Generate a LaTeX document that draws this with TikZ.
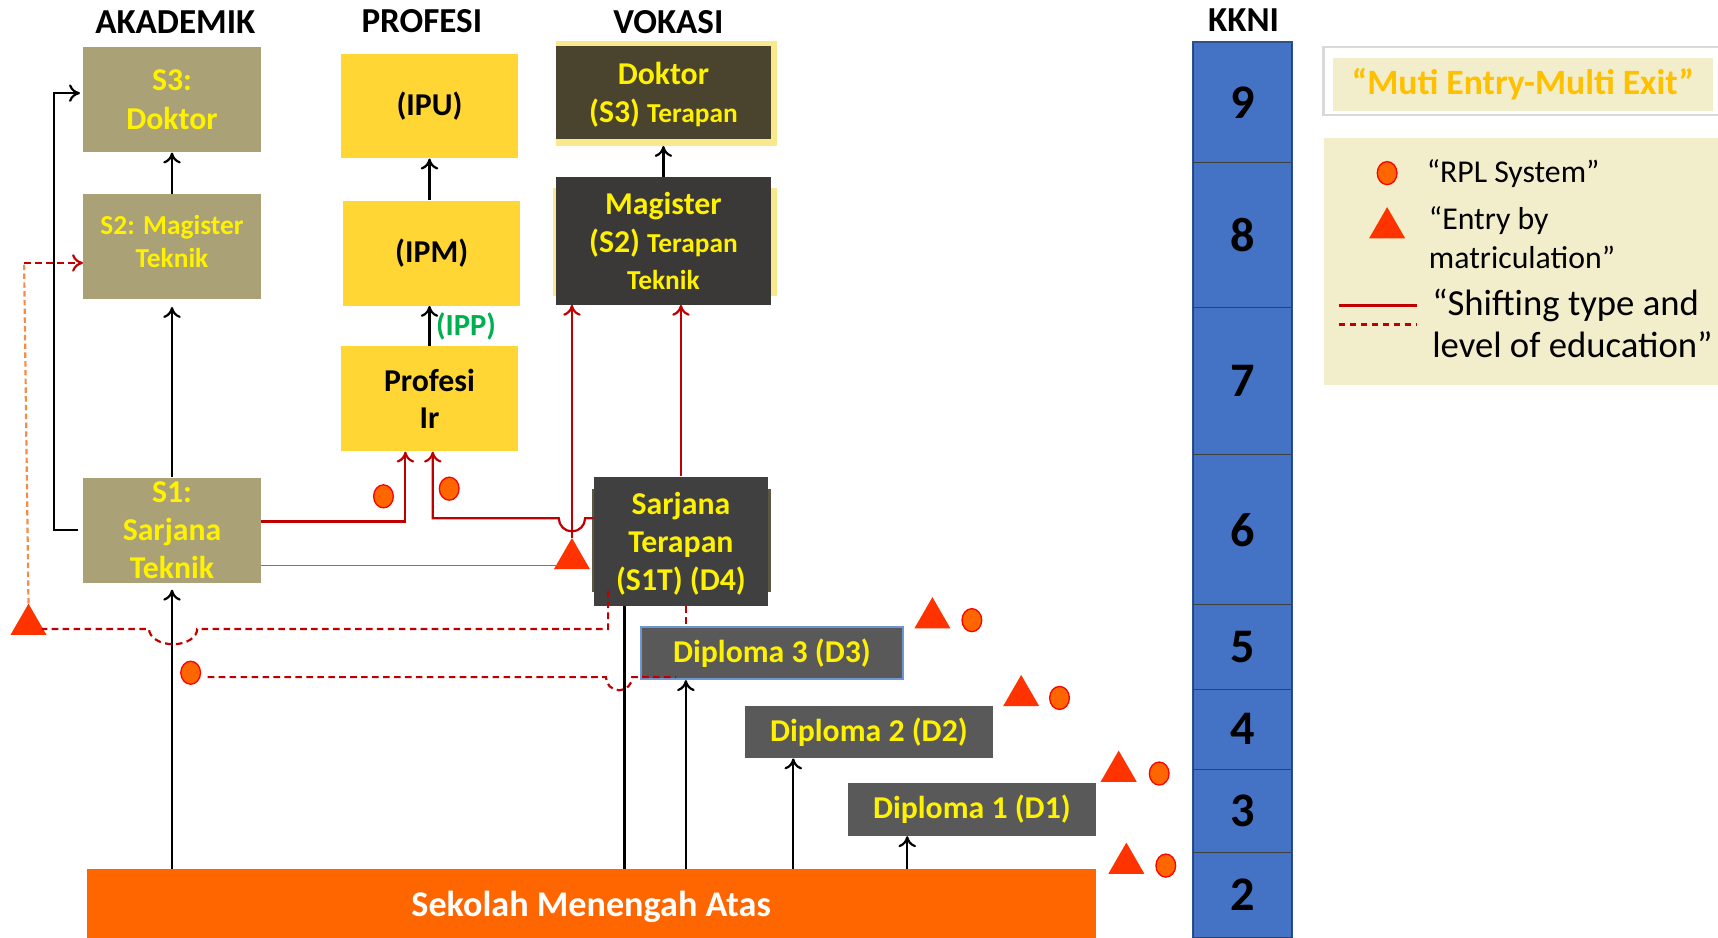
\documentclass[tikz,border=0pt]{standalone}
\usepackage{fontspec}
\setmainfont{Carlito}
\usetikzlibrary{arrows.meta,shapes.geometric}

\definecolor{akadc}{RGB}{170,161,118}
\definecolor{profc}{RGB}{255,214,51}
\definecolor{dokc}{RGB}{74,67,45}
\definecolor{magc}{RGB}{59,56,56}
\definecolor{stc}{RGB}{64,64,64}
\definecolor{stside}{RGB}{92,87,66}
\definecolor{dipc}{RGB}{89,89,89}
\definecolor{d3b}{RGB}{110,150,210}
\definecolor{smac}{RGB}{255,102,0}
\definecolor{kknic}{RGB}{68,114,196}
\definecolor{kknid}{RGB}{47,82,143}
\definecolor{shfc}{RGB}{192,0,0}
\definecolor{shfl}{RGB}{210,80,80}
\definecolor{odash}{RGB}{244,140,70}
\definecolor{trc}{RGB}{255,51,0}
\definecolor{rplc}{RGB}{255,102,0}
\definecolor{legc}{RGB}{242,238,203}
\definecolor{mutic}{RGB}{255,192,0}
\definecolor{ippc}{RGB}{0,176,80}
\definecolor{hiy}{RGB}{250,232,140}

\begin{document}
\begin{tikzpicture}[x=1pt,y=-1pt,>={To[length=10pt,width=16pt]}]
\tikzstyle{every node}+=[inner sep=0pt]
\tikzstyle{ttl}=[font=\fontsize{32}{36}\selectfont\bfseries]
\tikzstyle{box}=[rectangle,align=center,font=\fontsize{29}{36}\selectfont\bfseries]
\tikzstyle{akad}=[box,fill=akadc,text=yellow,minimum width=162pt,minimum height=96pt]
\tikzstyle{prof}=[box,fill=profc,text=black,minimum width=162pt,minimum height=96pt]
\tikzstyle{voc}=[box,text=yellow,minimum width=197pt]
\tikzstyle{dip}=[box,fill=dipc,text=yellow,minimum height=48pt]
\tikzstyle{lvl}=[fill=kknic,draw=black!75,line width=1pt,minimum width=90pt,font=\fontsize{44}{44}\selectfont\bfseries]
\tikzstyle{leg}=[font=\fontsize{29}{35}\selectfont]
\tikzstyle{rpl}=[ellipse,fill=rplc,draw=red,line width=1.2pt,minimum width=18pt,minimum height=21pt]
\tikzstyle{mat}=[regular polygon,regular polygon sides=3,fill=trc,minimum size=38pt]
\tikzstyle{blk}=[draw=black,line width=2pt]
\tikzstyle{shf}=[draw=shfc,line width=2pt]
\tikzstyle{shfd}=[draw=shfc,line width=2pt,dash pattern=on 6pt off 4pt]
\tikzstyle{odsh}=[draw=odash,line width=2pt,dash pattern=on 5pt off 3pt]
\useasboundingbox (0,0) rectangle (1568,856);

% column titles
\draw (160,20) node[ttl] (hak) {AKADEMIK};
\draw (385,19) node[ttl] (hpr) {PROFESI};
\draw (610,20) node[ttl] (hvo) {VOKASI};
\draw (1135,18) node[ttl] (hkk) {KKNI};

% akademik
\draw (157,91) node[akad] (s3) {S3:\\Doktor};
\draw (157,225) node[akad,text depth=10pt,font=\fontsize{25}{30}\selectfont\bfseries] (s2) {S2: Magister\\Teknik};
\draw (157,484) node[akad,font=\fontsize{29}{35}\selectfont\bfseries] (s1) {S1:\\Sarjana\\Teknik};

% profesi
\draw (392,97) node[prof,minimum height=95pt] (ipu) {(IPU)};
\draw (394,231) node[prof] (ipm) {(IPM)};
\draw (392,364) node[prof,font=\fontsize{29}{34}\selectfont\bfseries] (ir) {Profesi\\Ir};

% vokasi
\fill[hiy] (507,37) rectangle (709,133);
\draw (605.5,84.5) node[voc,fill=dokc,minimum height=85pt,text depth=0pt,font=\fontsize{29}{35}\selectfont\bfseries] (dts) {Doktor\\(S3) {\fontsize{25}{30}\selectfont Terapan}};
\fill[hiy] (505,172) rectangle (709,270);
\draw (605.5,220) node[voc,fill=magc,minimum height=116pt,font=\fontsize{29}{34}\selectfont\bfseries] (mts) {Magister\\(S2) {\fontsize{25}{30}\selectfont Terapan}\\{\fontsize{25}{30}\selectfont Teknik}};
\fill[stside] (540,446) rectangle (704,540);
\draw (621.5,494) node[voc,fill=stc,minimum width=159pt,minimum height=118pt,text depth=0pt,font=\fontsize{29}{35}\selectfont\bfseries] (st) {Sarjana\\Terapan\\(S1T) (D4)};
\draw (704.5,596) node[dip,draw=d3b,line width=1.5pt,minimum width=239pt] (d3) {Diploma 3 (D3)};
\draw (793,668) node[dip,minimum width=226pt] (d2) {Diploma 2 (D2)};
\draw (887,739) node[dip,minimum width=226pt] (d1) {Diploma 1 (D1)};
\draw (539.5,824.5) node[box,fill=smac,text=white,minimum width=921pt,minimum height=63pt,text depth=0pt,font=\fontsize{33}{36}\selectfont\bfseries] (sma) {Sekolah Menengah Atas};

% kkni levels
\draw (1134,93.5) node[lvl,minimum height=109pt] (k9) {9};
\draw (1134,214.5) node[lvl,minimum height=133pt] (k8) {8};
\draw (1134,348) node[lvl,minimum height=134pt] (k7) {7};
\draw (1134,483.5) node[lvl,minimum height=137pt] (k6) {6};
\draw (1134,590.5) node[lvl,minimum height=77pt] (k5) {5};
\draw (1134,665.5) node[lvl,minimum height=73pt] (k4) {4};
\draw (1134,740) node[lvl,minimum height=76pt] (k3) {3};
\draw (1134,817) node[lvl,minimum height=78pt] (k2) {2};
\draw[kknid,line width=1.5pt] (k9.north west) rectangle (k2.south east);

% legend
\draw[draw=black!15,line width=2pt,fill=white] (1208,43) rectangle (1572,105);
\draw (1390,77) node[fill=legc,minimum width=346pt,minimum height=48pt,text=mutic,font=\fontsize{32.5}{36}\selectfont\bfseries] (muti) {“Muti Entry-Multi Exit”};
\fill[legc] (1208,126) rectangle (1568,351);
\draw (1266,158) node[rpl] (lrpl) {};
\draw (1302,158) node[leg,anchor=west] (trpl) {“RPL System”};
\draw (1266,208) node[mat] (lmat) {};
\draw (1304,217) node[leg,anchor=west,align=left] (tmat) {“Entry by\\matriculation”};
\coordinate (ls1) at (1222,279);
\coordinate (ls2) at (1293,279);
\coordinate (ld1) at (1222,296);
\coordinate (ld2) at (1293,296);
\draw[shf,line width=2.5pt] (ls1) -- (ls2);
\draw[shfd,line width=2.5pt] (ld1) -- (ld2);
\draw (1307,295) node[anchor=west,align=left,font=\fontsize{33.5}{38}\selectfont] (tshf) {“Shifting type and\\level of education”};

% markers
\draw (350,453) node[rpl] (r1) {};
\draw (410,446) node[rpl] (r2) {};
\draw (887,566) node[rpl] (r3) {};
\draw (967,637) node[rpl] (r4) {};
\draw (1058,706) node[rpl] (r5) {};
\draw (1064,790) node[rpl] (r6) {};
\draw (174,614) node[rpl] (r7) {};
\draw (522,510) node[mat] (m1) {};
\draw (26,570) node[mat] (m2) {};
\draw (851,564) node[mat] (m3) {};
\draw (932,635) node[mat] (m4) {};
\draw (1021,704) node[mat] (m5) {};
\draw (1028,788) node[mat] (m6) {};

% black paths
\coordinate (lp) at (49,85);
\coordinate (s3in) at (76,85);
\draw[blk,->] (s2) -- (s3);
\draw[blk,->,shorten >=7pt] (s1) -- (s2);
\draw[blk,->,shorten >=6pt] (sma.north -| s1) -- (s1.south);
\draw[blk,->,shorten <=5pt,shorten >=3pt] (s1.west) -| (lp) -- (s3in);
\draw[blk,->] (ipu.south |- ipm.north) -- (ipu.south);
\draw[blk,->] (ir.north) -- (ir.north |- ipm.south) node[midway,right,xshift=5pt,text=ippc,font=\fontsize{28}{30}\selectfont\bfseries] (ipp) {(IPP)};
\draw[blk,->,shorten >=6pt] (mts.north) -- (dts.south);
\draw[blk] (570,0 |- sma.north) -- (570,0 |- st.south);
\draw[blk,->] (626,0 |- sma.north) -- (626,0 |- d3.south);
\draw[blk,->] (724,0 |- sma.north) -- (724,0 |- d2.south);
\draw[blk,->] (828,0 |- sma.north) -- (828,0 |- d1.south);

% shifting paths
\coordinate (jp1) at (534,473);
\draw[shf,->] ([yshift=8pt]s1.east) -| ([xshift=-22pt]ir.south);
\draw[shf,->] ([yshift=21pt]st.west) -- (jp1) arc[start angle=0,end angle=-180,radius=12pt] -| ([xshift=3pt]ir.south);
\draw[shfl,line width=1.5pt,shorten >=12pt] ([yshift=-32pt]s1.east) -- ([yshift=-32pt]s1.east -| m1);
\draw[shf,->] (m1.north) -- (m1.north |- mts.south);
\draw[shf,->] (st.north) -- (st.north |- mts.south);

\coordinate (stb) at (555,539);
\coordinate (jp2) at (180,574);
\coordinate (crn) at (22,240);
\draw[shfd,shorten >=12pt] (stb) -- (stb |- jp2) -- (jp2) arc[start angle=0,end angle=-180,x radius=22pt,y radius=14pt] -- (m2 |- jp2);
\draw[odsh] (m2.north) -- (crn);
\draw[shfd,->] (crn) -- (crn -| s2.west);
\draw[shfd] (st.south -| 626,0) -- (d3.north -| 626,0);
\coordinate (jp3) at (553,618);
\coordinate (d3in) at (617,618);
\draw[shfd] ([yshift=-4pt]r7.east) ++(6,0) -- (jp3) arc[start angle=180,end angle=360,radius=12pt] -- (d3in);
\end{tikzpicture}
\end{document}
